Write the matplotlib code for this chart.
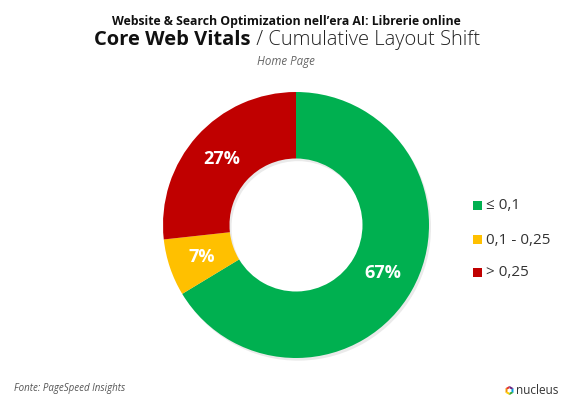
import matplotlib
matplotlib.use("Agg")
import matplotlib.pyplot as plt
from matplotlib.patches import Rectangle, Polygon
import numpy as np

plt.rcParams['font.family'] = ['Open Sans', 'DejaVu Sans']

## dati
categorie = ["≤ 0,1", "0,1 - 0,25", "> 0,25"]
valori = [67, 7, 27]
etichette = ["67%", "7%", "27%"]
colori = ["#00b050", "#ffc000", "#c00000"]

W, H = 573, 400
fig = plt.figure(figsize=(W / 100, H / 100), dpi=100)
fig.patch.set_facecolor("white")

def px(x, y):
    return x / W, 1 - y / H

## donut
cx, cy, r = 296, 225, 133
ax = fig.add_axes([(cx - r) / W, (H - cy - r) / H, 2 * r / W, 2 * r / H])

# ombra leggera
ax.pie(valori, radius=1, startangle=90, counterclock=False,
       colors=["#999999"] * 3, center=(0.015, -0.02),
       wedgeprops=dict(width=0.5, linewidth=0, alpha=0.2), frame=True)
wedges, _ = ax.pie(valori, radius=1, startangle=90, counterclock=False,
                   colors=colori, wedgeprops=dict(width=0.5, linewidth=0),
                   frame=True)
ax.set_xlim(-1, 1)
ax.set_ylim(-1, 1)
ax.set_aspect("equal")
ax.axis("off")

for w, lab in zip(wedges, etichette):
    ang = np.deg2rad((w.theta1 + w.theta2) / 2)
    ax.text(0.75 * np.cos(ang), 0.74 * np.sin(ang), lab, ha="center", va="center",
            color="white", fontsize=13, fontweight="bold")

## titoli
fig.text(*px(286, 22), "Website & Search Optimization nell’era AI: Librerie online",
         ha="center", va="center", fontsize=8.8, fontweight="bold", color="#111111")
t1 = fig.text(0, 0, "Core Web Vitals", fontsize=14.5, fontweight="bold", color="#111111",
              va="center", ha="left")
t2 = fig.text(0, 0, " / Cumulative Layout Shift", fontsize=14.5, fontweight="light",
              color="#222222", va="center", ha="left")
fig.canvas.draw()
rend = fig.canvas.get_renderer()
w1 = t1.get_window_extent(rend).width
w2 = t2.get_window_extent(rend).width
x0 = 287 - (w1 + w2) / 2
t1.set_position(px(x0, 40))
t2.set_position(px(x0 + w1, 40))
fig.text(*px(286, 61), "Home Page", ha="center", va="center", fontsize=8.3,
         style="italic", color="#666666")

## legenda
leg_y = [205.5, 240, 272.5]
for cat, col, y in zip(categorie, colori, leg_y):
    fig.add_artist(Rectangle(px(473, y + 4.5), 9 / W, 9 / H, facecolor=col,
                             edgecolor="none", transform=fig.transFigure))
    fig.text(*px(486, y), cat, ha="left", va="center", fontsize=11, color="#333333")

## piè di pagina
fig.text(*px(14, 389), "Fonte: PageSpeed Insights", ha="left", va="center",
         fontsize=7, style="italic", color="#555555")
fig.text(*px(516, 390), "nucleus", ha="left", va="center", fontsize=8.5,
         color="#333333")
lax = fig.add_axes([504 / W, (H - 396) / H, 11 / W, 11 / H])
lax.set_xlim(-1.2, 1.2)
lax.set_ylim(-1.2, 1.2)
lax.set_aspect("equal")
lax.axis("off")
logo_col = ["#e6332a", "#f39200", "#ffcc00", "#3aaa35", "#009fe3", "#662483"]
angs = np.deg2rad(np.arange(90, 450, 60))
for i, c in enumerate(logo_col):
    a0, a1 = angs[i], angs[(i + 1) % 6]
    outer = [(np.cos(a0), np.sin(a0)), (np.cos(a1), np.sin(a1))]
    inner = [(0.5 * np.cos(a1), 0.5 * np.sin(a1)), (0.5 * np.cos(a0), 0.5 * np.sin(a0))]
    lax.add_patch(Polygon(outer + inner, facecolor=c, edgecolor="none"))

fig.savefig("out.png", dpi=100, facecolor="white")
